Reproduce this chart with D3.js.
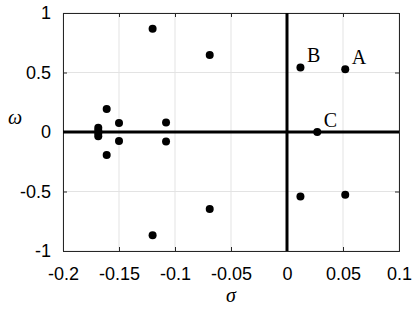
<!DOCTYPE html>
<html>
<head>
<meta charset="utf-8">
<script src="https://cdn.jsdelivr.net/npm/d3@7"></script>
<style>
  body { margin: 0; background: #fff; }
  .tick text { font-family: "Liberation Sans", Arial, sans-serif; font-size: 18px; fill: #000; }
  .lbl { font-family: "Liberation Serif", "Times New Roman", serif; font-size: 20px; }
</style>
</head>
<body>
<div id="chart"></div>
<script>
// eigenvalue data (real part sigma, imaginary part omega)
var sigma = [-0.12, -0.12, -0.069, -0.069, 0.012, 0.012, 0.052, 0.052, 0.027,
             -0.108, -0.108, -0.161, -0.161, -0.15, -0.15,
             -0.1685, -0.1685, -0.1685, -0.1685];
var omega = [0.868, -0.868, 0.647, -0.647, 0.542, -0.542, 0.527, -0.527, 0.0,
             0.08, -0.08, 0.193, -0.193, 0.075, -0.075,
             0.035, 0.012, -0.012, -0.035];
// labelled points
var labelText = ["A", "B", "C"];
var labelSigma = [0.052, 0.012, 0.027];
var labelOmega = [0.527, 0.542, 0.0];

var xTicks = [-0.2, -0.15, -0.1, -0.05, 0, 0.05, 0.1];
var yTicks = [-1, -0.5, 0, 0.5, 1];

var svgWidth = 415;
var svgHeight = 312;
var margin = { top: 13, right: 16, bottom: 61, left: 63 };
var width = svgWidth - margin.left - margin.right;
var height = svgHeight - margin.top - margin.bottom;

var svg = d3.select("#chart")
  .append("svg")
  .attr("width", svgWidth)
  .attr("height", svgHeight);

var g = svg.append("g")
  .attr("transform", `translate(${margin.left}, ${margin.top})`);

var x = d3.scaleLinear().domain([-0.2, 0.1]).range([0, width]);
var y = d3.scaleLinear().domain([-1, 1]).range([height, 0]);

// grid
g.append("g").selectAll("line").data(xTicks).enter().append("line")
  .attr("x1", d => x(d)).attr("x2", d => x(d))
  .attr("y1", 0).attr("y2", height)
  .attr("stroke", "#e3e3e3").attr("stroke-width", 1);
g.append("g").selectAll("line").data(yTicks).enter().append("line")
  .attr("y1", d => y(d)).attr("y2", d => y(d))
  .attr("x1", 0).attr("x2", width)
  .attr("stroke", "#e3e3e3").attr("stroke-width", 1);

// axes (ticks inward, MATLAB style)
var fmt = d => d3.format("")(d).replace("−", "-");
var bottomAxis = d3.axisBottom(x).tickValues(xTicks).tickSize(-4).tickPadding(16).tickFormat(fmt);
var leftAxis = d3.axisLeft(y).tickValues(yTicks).tickSize(-4).tickPadding(12).tickFormat(fmt);
var topAxis = d3.axisTop(x).tickValues(xTicks).tickSize(-4).tickFormat("");
var rightAxis = d3.axisRight(y).tickValues(yTicks).tickSize(-4).tickFormat("");

function styleAxis(sel) {
  sel.selectAll("path").attr("stroke", "#262626").attr("stroke-width", 1);
  sel.selectAll("line").attr("stroke", "#262626");
}
g.append("g").attr("transform", `translate(0, ${height})`).call(bottomAxis).call(styleAxis);
g.append("g").call(leftAxis).call(styleAxis);
g.append("g").call(topAxis).call(styleAxis);
g.append("g").attr("transform", `translate(${width}, 0)`).call(rightAxis).call(styleAxis);

// heavy zero lines
g.append("line")
  .attr("x1", 0).attr("x2", width)
  .attr("y1", y(0)).attr("y2", y(0))
  .attr("stroke", "#000").attr("stroke-width", 3);
g.append("line")
  .attr("x1", x(0)).attr("x2", x(0))
  .attr("y1", 0).attr("y2", height)
  .attr("stroke", "#000").attr("stroke-width", 3);

// points
g.selectAll("circle")
  .data(sigma)
  .enter()
  .append("circle")
  .attr("cx", d => x(d))
  .attr("cy", (d, i) => y(omega[i]))
  .attr("r", 4)
  .attr("fill", "#000");

// point labels
g.selectAll(".ptlbl")
  .data(labelText)
  .enter()
  .append("text")
  .attr("class", "lbl")
  .attr("x", (d, i) => x(labelSigma[i]) + 6.5)
  .attr("y", (d, i) => y(labelOmega[i]) - 5.5)
  .text(d => d);

// axis labels
svg.append("text")
  .attr("class", "lbl")
  .attr("font-style", "italic")
  .attr("font-size", "22px")
  .attr("text-anchor", "middle")
  .attr("x", margin.left + width / 2)
  .attr("y", 302)
  .text("σ");

svg.append("text")
  .attr("class", "lbl")
  .attr("font-style", "italic")
  .attr("font-size", "22px")
  .attr("text-anchor", "middle")
  .attr("x", 15)
  .attr("y", 124)
  .text("ω");
</script>
</body>
</html>
